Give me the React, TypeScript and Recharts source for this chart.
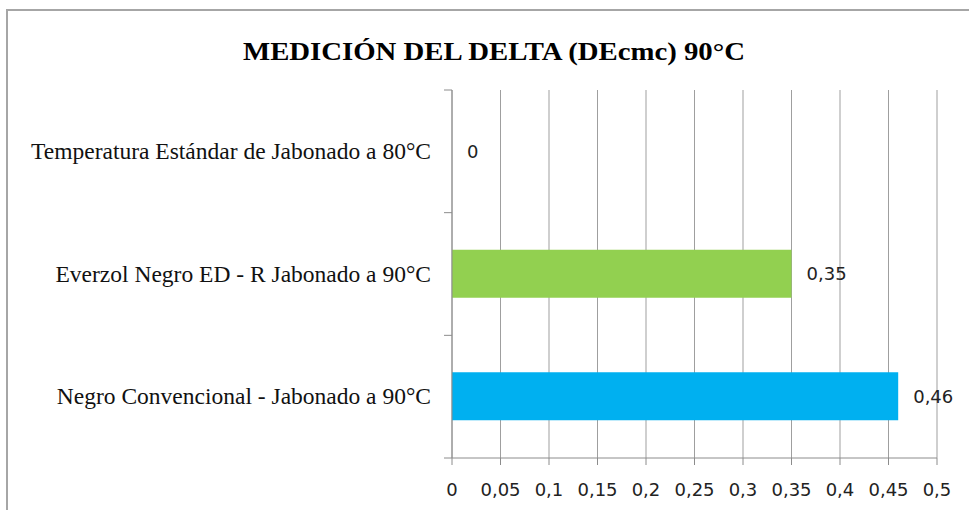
import { Bar, BarChart, CartesianGrid, Cell, ReferenceDot, XAxis, YAxis } from "recharts";

const CATEGORIES = [
  "Temperatura Estándar de Jabonado a 80°C",
  "Everzol Negro ED - R Jabonado a 90°C",
  "Negro Convencional - Jabonado a 90°C",
];
const VALUES = [0, 0.35, 0.46];
const BAR_COLORS = ["#92d050", "#92d050", "#00b0f0"];
const X_TICKS = [0, 0.05, 0.1, 0.15, 0.2, 0.25, 0.3, 0.35, 0.4, 0.45, 0.5];
const TITLE = "MEDICIÓN DEL DELTA (DEcmc) 90°C";

const data = CATEGORIES.map((name, i) => ({ name, value: VALUES[i] }));

const W = 969;
const H = 510;
const TOP = 90;
const BOTTOM = 52;
const AXIS_X = 452;
const BAND = (H - TOP - BOTTOM) / CATEGORIES.length;

const comma = (v: number) => String(v).replace(".", ",");
const sans = "'DejaVu Sans', sans-serif";

function CategoryTick(props: any) {
  const { y, payload, index } = props;
  return (
    <g>
      <line x1={AXIS_X - 8} x2={AXIS_X} y1={y - BAND / 2} y2={y - BAND / 2} stroke="#8c8c8c" />
      {index === CATEGORIES.length - 1 && (
        <line x1={AXIS_X - 8} x2={AXIS_X} y1={y + BAND / 2} y2={y + BAND / 2} stroke="#8c8c8c" />
      )}
      <text
        x={431}
        y={y}
        dy="0.33em"
        textAnchor="end"
        fontFamily="'Liberation Serif', serif"
        fontSize={23.5}
        fill="#111"
      >
        {payload.value}
      </text>
    </g>
  );
}

export default function App() {
  return (
    <div style={{ position: "absolute", left: 0, top: 0, width: W, height: H, overflow: "hidden", background: "#fff" }}>
      <div
        style={{
          position: "absolute",
          left: 6,
          top: 9,
          width: 1100,
          height: 700,
          border: "2px solid #a6a6a6",
        }}
      />
      <svg style={{ position: "absolute", left: 0, top: 0 }} width={W} height={80}>
        <text
          x={494}
          y={60}
          textAnchor="middle"
          textLength={502}
          lengthAdjust="spacingAndGlyphs"
          fontFamily="'Liberation Serif', serif"
          fontWeight="bold"
          fontSize={26}
          fill="#000"
        >
          {TITLE}
        </text>
      </svg>
      <div style={{ position: "absolute", left: 0, top: 0 }}>
        <BarChart
          width={W}
          height={H}
          data={data}
          layout="vertical"
          margin={{ top: TOP, right: 32, bottom: 0, left: 0 }}
          barSize={48}
        >
          <CartesianGrid horizontal={false} stroke="#9f9f9f" />
          <XAxis
            type="number"
            domain={[0, 0.5]}
            ticks={X_TICKS}
            tickFormatter={comma}
            interval={0}
            height={BOTTOM}
            tickSize={7}
            tickMargin={18}
            axisLine={{ stroke: "#8c8c8c" }}
            tickLine={{ stroke: "#8c8c8c" }}
            tick={{ fontSize: 18, fill: "#222", fontFamily: sans }}
          />
          <YAxis
            type="category"
            dataKey="name"
            width={AXIS_X}
            tickLine={false}
            axisLine={{ stroke: "#8c8c8c" }}
            tick={<CategoryTick />}
            interval={0}
          />
          <Bar dataKey="value" isAnimationActive={false}>
            {data.map((_, i) => (
              <Cell key={i} fill={BAR_COLORS[i]} />
            ))}
          </Bar>
          {data.map((d) => (
            <ReferenceDot
              key={d.name}
              x={d.value}
              y={d.name}
              r={1}
              fill="none"
              stroke="none"
              label={{
                value: comma(d.value),
                position: "right",
                offset: 14,
                fontSize: 18,
                fill: "#222",
                fontFamily: sans,
              }}
            />
          ))}
        </BarChart>
      </div>
    </div>
  );
}
